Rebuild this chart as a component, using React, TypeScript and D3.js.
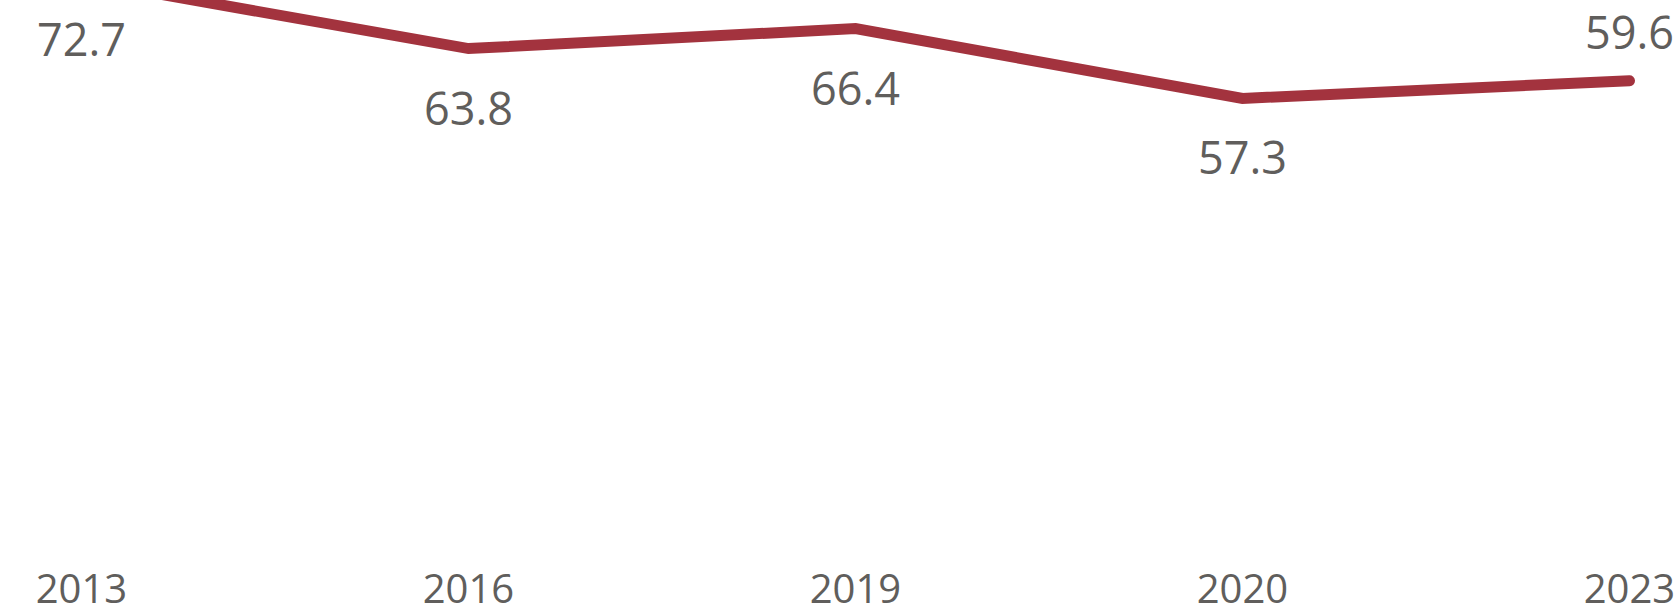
import React from "react";
import * as d3 from "d3";

const years = ["2013", "2016", "2019", "2020", "2023"];
const values = [72.7, 63.8, 66.4, 57.3, 59.6];

const W = 1680;
const H = 608;

export default function App() {
  const x = d3.scalePoint<string>().domain(years).range([81.5, 1629.5]);
  const y = d3.scaleLinear().domain([0, 70]).range([538, 1]);
  const line = d3
    .line<number>()
    .x((_, i) => x(years[i]) as number)
    .y((d) => y(d));
  const font = "'Open Sans', 'Segoe UI', sans-serif";
  const textColor = "#605E5C";
  return (
    <svg
      width={W}
      height={H}
      style={{ position: "absolute", left: 0, top: 0, display: "block" }}
    >
      <rect width={W} height={H} fill="#ffffff" />
      <path
        d={line(values) || ""}
        fill="none"
        stroke="#A3333E"
        strokeWidth={11}
        strokeLinejoin="miter"
        strokeLinecap="round"
      />
      {values.map((v, i) => {
        const last = i === values.length - 1;
        return (
          <text
            key={"l" + i}
            x={x(years[i]) as number}
            y={y(v) + (last ? -32 : 76)}
            textAnchor="middle"
            fontFamily={font}
            fontSize={45}
            fill={textColor}
          >
            {v.toFixed(1)}
          </text>
        );
      })}
      {years.map((yr) => (
        <text
          key={"a" + yr}
          x={x(yr) as number}
          y={603}
          textAnchor="middle"
          fontFamily={font}
          fontSize={40}
          fill={textColor}
        >
          {yr}
        </text>
      ))}
    </svg>
  );
}
